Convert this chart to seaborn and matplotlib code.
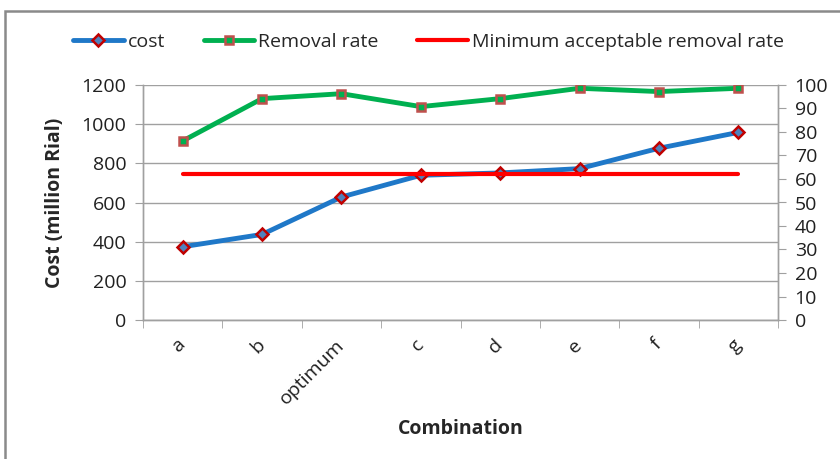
import matplotlib
matplotlib.use('Agg')
import matplotlib.pyplot as plt
import matplotlib.patches as mpatches
from matplotlib.lines import Line2D
import pandas as pd
import seaborn as sns

# data
combinations = ['a', 'b', 'optimum', 'c', 'd', 'e', 'f', 'g']
cost = [374, 437, 628, 739, 751, 773, 877, 958]
removal_rate = [76.2, 94.2, 96.3, 90.8, 94.2, 98.6, 97.2, 98.6]
min_acceptable = [62] * len(combinations)

df = pd.DataFrame({'Combination': combinations, 'cost': cost,
                   'removal': removal_rate, 'minimum': min_acceptable})

sns.set_style('white')
plt.rcParams['font.family'] = ['Open Sans', 'DejaVu Sans']

fig = plt.figure(figsize=(8.4, 4.59), dpi=100)
ax = fig.add_axes([143/840, 1-320/459, (778-143)/840, (320-85)/459])
ax2 = ax.twinx()

grey = '#a0a0a0'
blue = '#1f78c8'
green = '#00b050'
red = '#ff0000'
fs = 14

sns.lineplot(data=df, x='Combination', y='cost', ax=ax, color=blue, lw=3.5,
             marker='D', markersize=6, markerfacecolor='#4f81bd',
             markeredgecolor='#c00000', markeredgewidth=1.8, zorder=5)
sns.lineplot(data=df, x='Combination', y='removal', ax=ax2, color=green, lw=3.5,
             marker='s', markersize=6, markerfacecolor='#00b050',
             markeredgecolor='#c0504d', markeredgewidth=1.8, zorder=5)
sns.lineplot(data=df, x='Combination', y='minimum', ax=ax2, color=red, lw=3,
             zorder=4)

ax.set_xlim(-0.5, len(combinations) - 0.5)
ax.set_ylim(0, 1200)
ax2.set_ylim(0, 100)
ax.set_yticks(range(0, 1201, 200))
ax2.set_yticks(range(0, 101, 10))

ax.grid(axis='y', color=grey, lw=1)
ax.set_axisbelow(True)

for a in (ax, ax2):
    for s in a.spines.values():
        s.set_color(grey)
        s.set_linewidth(1)
    a.spines['top'].set_visible(False)

ax.tick_params(axis='y', length=6, color=grey, labelsize=fs, labelcolor='#202020', pad=6, left=True)
ax2.tick_params(axis='y', length=6, color=grey, labelsize=fs, labelcolor='#202020', pad=6, right=True)

ax.set_xticks(range(len(combinations)))
ax.set_xticklabels(combinations, rotation=45, ha='right', va='center',
                   rotation_mode='anchor', fontsize=fs, color='#202020')
ax.set_xticks([i - 0.5 for i in range(len(combinations) + 1)], minor=True)
ax.tick_params(axis='x', which='major', length=0, pad=16)
ax.tick_params(axis='x', which='minor', length=6, color=grey, bottom=True)

ax.set_xlabel('Combination', fontsize=fs, fontweight='bold', labelpad=8)
ax.set_ylabel('Cost (million Rial)', fontsize=fs, fontweight='bold', labelpad=12)
ax2.set_ylabel('')

handles = [
    Line2D([], [], color=blue, lw=3.5, marker='D', markersize=6,
           markerfacecolor='#4f81bd', markeredgecolor='#c00000', markeredgewidth=1.8),
    Line2D([], [], color=green, lw=3.5, marker='s', markersize=6,
           markerfacecolor='#00b050', markeredgecolor='#c0504d', markeredgewidth=1.8),
    Line2D([], [], color=red, lw=3),
]
labels = ['cost', 'Removal rate', 'Minimum acceptable removal rate']
fig.legend(handles, labels, loc='center', bbox_to_anchor=(0.51, 1-42/459),
           ncol=3, frameon=False, fontsize=fs, handlelength=2.6,
           columnspacing=2.0, handletextpad=0.2)

# outer chart frame (clipped at right and bottom as in the original)
fig.patches.append(mpatches.Rectangle((5/840, -0.1), 1.2, 1-11/459+0.1,
                                      transform=fig.transFigure, fill=False,
                                      edgecolor='#8a8a8a', lw=1.8))

fig.savefig('out.png', dpi=100)
